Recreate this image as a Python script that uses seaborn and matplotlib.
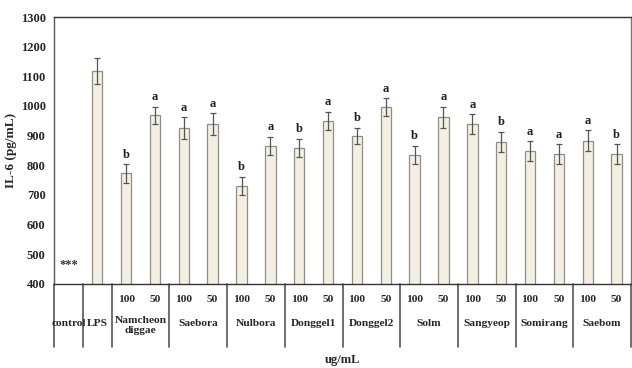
import matplotlib
matplotlib.use("Agg")
import matplotlib.pyplot as plt
import matplotlib.transforms as mtransforms
import seaborn as sns
import pandas as pd

# ---- data ----
groups = ["control", "LPS", "Namcheon\ndiggae", "Saebora", "Nulbora", "Donggel1",
          "Donggel2", "Solm", "Sangyeop", "Somirang", "Saebom"]
doses = ["100", "50"]
values = [0, 1118,
          773, 969,
          926, 939,
          730, 866,
          859, 950,
          899, 996,
          835, 962,
          938, 879,
          847, 839,
          883, 839]
errors = [0, 45,
          31, 28,
          36, 36,
          31, 31,
          31, 31,
          28, 30,
          31, 36,
          34, 35,
          34, 33,
          36, 33]
letters = ["", "",
           "b", "a",
           "a", "a",
           "b", "a",
           "b", "a",
           "b", "a",
           "b", "a",
           "a", "b",
           "a", "a",
           "a", "b"]
control_mark = "***"
y_ticks = [400, 500, 600, 700, 800, 900, 1000, 1100, 1200, 1300]

# slot ids
slot_ids = ["control", "LPS"] + [f"{g}|{d}" for g in groups[2:] for d in doses]
df = pd.DataFrame({"slot": slot_ids, "value": values})

sns.set_style("white")
plt.rcParams["font.family"] = ["Liberation Serif", "DejaVu Serif"]
plt.rcParams["font.weight"] = "bold"

fig = plt.figure(figsize=(6.32, 3.68), dpi=100)
W, H = 632, 368
ax = fig.add_axes([54 / W, (H - 284) / H, 577 / W, 267 / H])

fill = "#f3f0e1"
edge = "#8e8e86"
sns.barplot(data=df, x="slot", y="value", order=slot_ids, color=fill,
            edgecolor=edge, linewidth=0.9, width=0.36, saturation=1,
            errorbar=None, ax=ax)

xs = list(range(len(slot_ids)))
ex = [x for x, e in zip(xs, errors) if e > 0]
ey = [v for v, e in zip(values, errors) if e > 0]
ee = [e for e in errors if e > 0]
ax.errorbar(ex, ey, yerr=ee, fmt="none", ecolor="#555555", elinewidth=0.9,
            capsize=2.2, capthick=0.9)

for x, v, e, lab in zip(xs, values, errors, letters):
    if lab:
        ax.annotate(lab, (x, v + e), xytext=(0, 2.5), textcoords="offset points",
                    ha="center", va="bottom", fontsize=9, fontweight="bold",
                    color="#222222")

ax.set_ylim(400, 1300)
ax.set_xlim(-0.5, len(slot_ids) - 0.5)
ax.set_yticks(y_ticks)
ax.set_yticklabels([str(t) for t in y_ticks], fontsize=9, fontweight="bold")
ax.tick_params(axis="y", length=0, pad=6)
ax.set_xticks([])
ax.set_xlabel("")
ax.set_ylabel("IL-6 (pg/mL)", fontsize=9.5, fontweight="bold")
ax.yaxis.set_label_coords(-(54 - 17) / 577, 0.5)

for s in ["left", "top", "right", "bottom"]:
    ax.spines[s].set_visible(True)
    ax.spines[s].set_linewidth(1.0)
ax.spines["top"].set_color("#333333")
ax.spines["bottom"].set_color("#333333")
ax.spines["left"].set_color("#555555")
ax.spines["right"].set_color("#777777")

# control marker
ax.text(0 - 0.3, 465, control_mark, ha="left", va="center", fontsize=9,
        fontweight="bold", color="#333333")

# category table below axis
trans = mtransforms.blended_transform_factory(ax.transData, ax.transAxes)
line_bottom = -(347 - 284) / 267
bounds = [-0.5, 0.5, 1.5] + [1.5 + 2 * (i + 1) for i in range(len(groups) - 2)]
for b in bounds:
    ax.plot([b, b], [0, line_bottom], transform=trans, color="#555555",
            lw=1.2, clip_on=False)

dose_y = -(300 - 284) / 267
name_y = -(324 - 284) / 267
fs = 8.2
ax.text(0, name_y, groups[0], transform=trans, ha="center", va="center",
        fontsize=fs, fontweight="bold")
ax.text(1, name_y, groups[1], transform=trans, ha="center", va="center",
        fontsize=fs, fontweight="bold")
for i, g in enumerate(groups[2:]):
    x0 = 2 + 2 * i
    for j, d in enumerate(doses):
        ax.text(x0 + j, dose_y, d, transform=trans, ha="center", va="center",
                fontsize=fs, fontweight="bold")
    if "\n" in g:
        ax.text(x0 + 0.5, name_y + 0.03, g, transform=trans, ha="center",
                va="top", fontsize=fs, fontweight="bold", linespacing=1.15)
    else:
        ax.text(x0 + 0.5, name_y, g, transform=trans, ha="center", va="center",
                fontsize=fs, fontweight="bold")

ax.text(0.5, -(360 - 284) / 267, "ug/mL", transform=ax.transAxes, ha="center",
        va="center", fontsize=9, fontweight="bold")

fig.savefig("out.png", dpi=100)
